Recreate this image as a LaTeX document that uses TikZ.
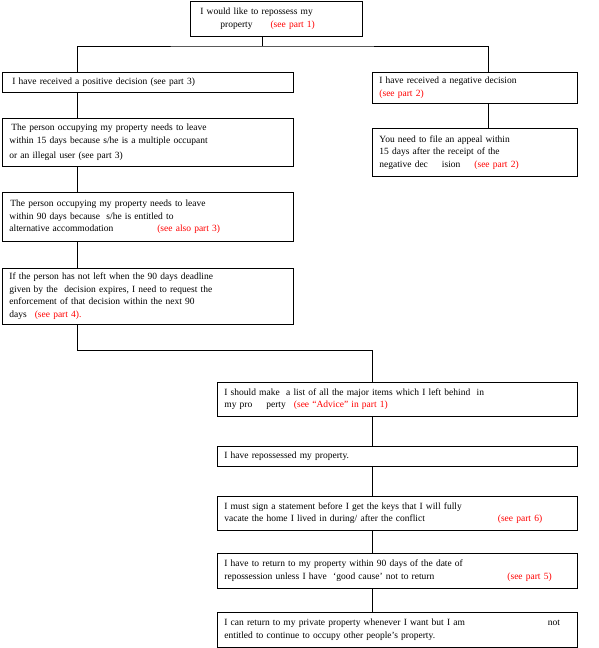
\documentclass[tikz,border=0pt]{standalone}
\usepackage{fontspec}
\setmainfont{Liberation Serif}
\usepackage{xcolor}
\usetikzlibrary{arrows.meta}
\newcommand{\seeref}[1]{\textcolor{red}{#1}}

\begin{document}
\begin{tikzpicture}[x=1pt, y=-1pt,
  stepbox/.style={draw, line width=0.8pt, anchor=north west, align=left,
                  inner xsep=7pt, inner ysep=0pt,
                  font=\fontsize{9.5}{12.5}\selectfont},
  link/.style={line width=0.8pt}
]
  \path[use as bounding box] (0,0) rectangle (599,648);
  \node[stepbox, text width=158pt, minimum height=35pt] (want) at (190,1)
    {\hspace*{3pt}I would like to repossess my\\
     \hspace*{23pt}property\hspace{18pt}\seeref{(see part 1)}};
  \node[stepbox, text width=277pt, minimum height=20pt] (pos) at (2,72)
    {\hspace*{3pt}I have received a positive decision (see part 3)};
  \node[stepbox, text width=277pt, minimum height=48pt] (occ15) at (2,118)
    {\hspace*{2pt}The person occupying my property needs to leave\\
     within 15 days because s/he is a multiple occupant\\[3pt]
     or an illegal user (see part 3)\\[4pt]};
  \node[stepbox, text width=277pt, minimum height=49pt] (occ90) at (2,192)
    {\hspace*{1pt}The person occupying my property needs to leave\\
     within 90 days because\ \ s/he is entitled to\\
     alternative accommodation\hspace{44pt}\seeref{(see also part 3)}};
  \node[stepbox, text width=277pt, minimum height=56pt] (enf) at (2,268)
    {If the person has not left when the 90 days deadline\\
     given by the\ \ decision expires, I need to request the\\
     enforcement of that decision within the next 90\\
     days\hspace{8pt}\seeref{(see part 4).}};
  \node[stepbox, text width=191pt, minimum height=31pt] (neg) at (372,72)
    {I have received a negative decision\\ \seeref{(see part 2)}};
  \node[stepbox, text width=191pt, minimum height=48pt] (appeal) at (372,128)
    {You need to file an appeal within\\
     15 days after the receipt of the\\
     negative dec\hspace{14pt}ision\hspace{14pt}\seeref{(see part 2)}};
  \node[stepbox, text width=346pt, minimum height=34pt] (items) at (217,382)
    {I should make\ \ a list of all the major items which I left behind\ \ in\\
     my pro\hspace{14pt}perty\hspace{8pt}\seeref{(see “Advice” in part 1)}};
  \node[stepbox, text width=346pt, minimum height=20pt] (back) at (217,446)
    {I have repossessed my property.};
  \node[stepbox, text width=346pt, minimum height=34pt] (sign) at (217,496)
    {I must sign a statement before I get the keys that I will fully\\
     vacate the home I lived in during/ after the conflict\hspace{73pt}\seeref{(see part 6)}};
  \node[stepbox, text width=346pt, minimum height=35pt] (ret) at (217,553)
    {I have to return to my property within 90 days of the date of\\
     repossession unless I have\ \ ‘good cause’ not to return\hspace{73pt}\seeref{(see part 5)}};
  \node[stepbox, text width=346pt, minimum height=35pt] (free) at (217,612)
    {I can return to my private property whenever I want but I am\hspace{83pt}not\\
     entitled to continue to occupy other people’s property.};

  \coordinate (hub) at (262,46);
  \coordinate (lcol) at (77,0);
  \coordinate (rcol) at (488,0);
  \coordinate (turn) at (372,350);

  \draw[link] (want.south -| hub) -- (hub);
  \draw[link] (pos.north -| lcol) |- (hub) -| (neg.north -| rcol);
  \draw[link] (pos.south -| lcol) -- (occ15.north -| lcol);
  \draw[link] (occ15.south -| lcol) -- (occ90.north -| lcol);
  \draw[link] (occ90.south -| lcol) -- (enf.north -| lcol);
  \draw[link] (enf.south -| lcol) |- (turn) -- (items.north -| turn);
  \draw[link] (neg.south -| rcol) -- (appeal.north -| rcol);
  \draw[link] (items.south -| turn) -- (back.north -| turn);
  \draw[link] (back.south -| turn) -- (sign.north -| turn);
  \draw[link] (sign.south -| turn) -- (ret.north -| turn);
  \draw[link] (ret.south -| turn) -- (free.north -| turn);
\end{tikzpicture}
\end{document}
